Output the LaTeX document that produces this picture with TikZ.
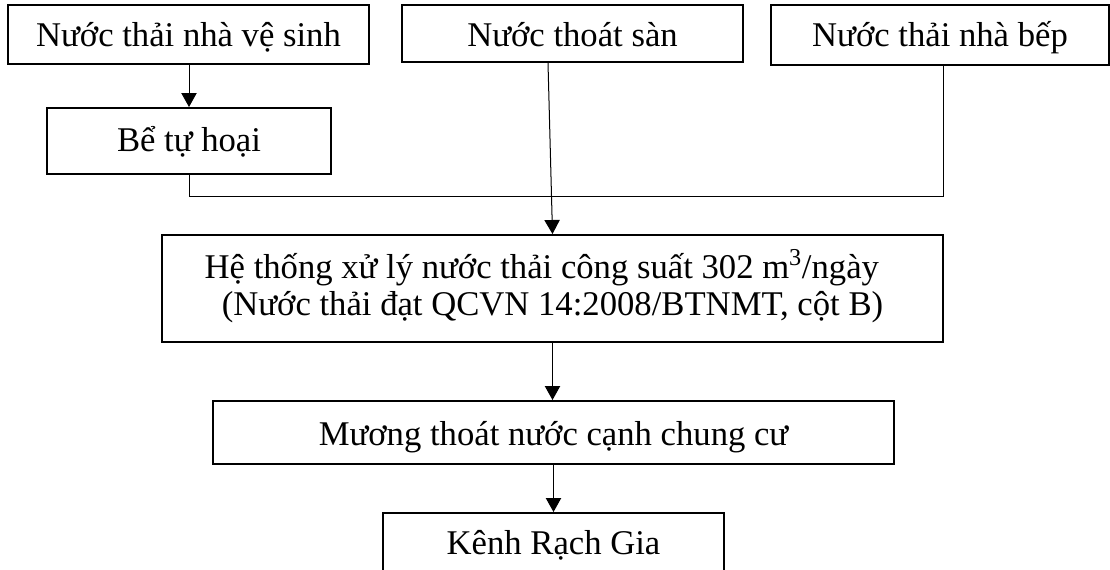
\documentclass[tikz,border=0pt]{standalone}
\usepackage{fontspec}
\setmainfont{Liberation Serif}
\usetikzlibrary{arrows.meta,calc}
\begin{document}
\begin{tikzpicture}[x=0.75pt,y=-0.75pt,
  box/.style={draw, line width=1.5pt, rectangle, inner sep=0pt,
    font=\fontsize{26}{27.75}\selectfont, text depth=0pt, text height=18pt},
  link/.style={line width=0.75pt},
  arr/.style={link, -{Triangle[width=11.5pt,length=10.5pt]}}]
\useasboundingbox (0,0) rectangle (1110,569);
\fill[white] (0,0) rectangle (1110,569);
\node[box, minimum width=270.75pt, minimum height=44.25pt] (b1) at (188.5,34.5) {Nước thải nhà vệ sinh};
\node[box, minimum width=255.75pt, minimum height=42.75pt, text height=19.8pt] (b2) at (572.5,33.5) {Nước thoát sàn};
\node[box, minimum width=253.5pt, minimum height=45pt, text height=17.5pt] (b3) at (940,35) {Nước thải nhà bếp};
\node[box, minimum width=213pt, minimum height=49.5pt, text height=16pt] (be) at (189,141) {Bể tự hoại};
\node[box, minimum width=585.75pt, minimum height=80.25pt, text height=39.75pt, align=center] (sys) at (552.5,288.5)
  {Hệ thống xử lý nước thải công suất 302 m\textsuperscript{3}/ngày\hspace*{16pt}\\ (Nước thải đạt QCVN 14:2008/BTNMT, cột B)};
\node[box, minimum width=510.75pt, minimum height=47.25pt, text height=19.5pt] (muong) at (553.5,432.5) {Mương thoát nước cạnh chung cư};
\node[box, minimum width=255.75pt, minimum height=51pt, text height=10.5pt] (kenh) at (553.5,547) {Kênh Rạch Gia};
\coordinate (j) at (943,196);
\draw[arr] (be.north |- b1.south) -- (be.north);
\draw[link] (be.south) -- (be.south |- j) -- (j) -- (j |- b3.south);
\draw[arr] ($(b2.south)+(-24.5,0)$) -- (sys.north);
\draw[arr] (sys.south) -- (sys.south |- muong.north);
\draw[arr] (muong.south -| kenh.north) -- (kenh.north);
\end{tikzpicture}
\end{document}
